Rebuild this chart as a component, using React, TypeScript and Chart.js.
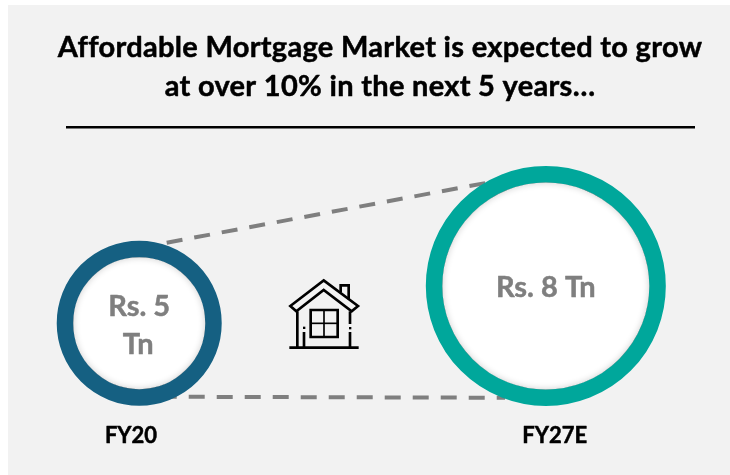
import React, { useEffect, useRef } from "react";
import { Chart, registerables } from "chart.js";

Chart.register(...registerables);

const periods = ["FY20", "FY27E"];
const marketSizeTn = [5, 8];
const ringColors = ["#156082", "#00A79B"];
const valueLabels = [["Rs. 5", "Tn"], ["Rs. 8 Tn"]];
const titleLines = [
  "Affordable Mortgage Market is expected to grow",
  "at over 10% in the next 5 years…",
];
const upperConnector = [
  { x: 0.0676, y: 11.49 },
  { x: 0.853, y: 16.31 },
];
const lowerConnector = [
  { x: 0.0529, y: -0.93 },
  { x: 0.8996, y: -1.01 },
];

const FONT = "Lato, 'Open Sans', sans-serif";
const bubbleRadius = (v: number) => 12.5 * v + 11.75;

function text(ctx: any, s: string, x: number, y: number, font: string, color: string, spacing = "0px") {
  ctx.save();
  ctx.font = font;
  ctx.fillStyle = color;
  ctx.strokeStyle = color;
  ctx.lineWidth = 0.5;
  ctx.lineJoin = "round";
  ctx.textAlign = "center";
  ctx.textBaseline = "alphabetic";
  ctx.letterSpacing = spacing;
  ctx.fillText(s, x, y);
  ctx.strokeText(s, x, y);
  ctx.restore();
}

function drawHouse(ctx: any) {
  ctx.save();
  ctx.translate(270, 260);
  ctx.scale(1 / 3, 1 / 3);
  ctx.strokeStyle = "#000";
  ctx.lineJoin = "miter";
  ctx.lineWidth = 8;
  const poly = (pts: number[][], close = false) => {
    ctx.beginPath();
    pts.forEach((p, i) => (i ? ctx.lineTo(p[0], p[1]) : ctx.moveTo(p[0], p[1])));
    if (close) ctx.closePath();
    ctx.stroke();
  };
  poly([[161, 61], [264, 138], [245, 154], [161, 90], [79, 154], [61, 138]], true);
  poly([[212, 97], [212, 76], [236, 76], [236, 118]]);
  poly([[82, 154], [82, 263]]);
  poly([[240, 154], [240, 192]]);
  poly([[240, 216], [240, 263]]);
  poly([[102, 216], [102, 263]]);
  poly([[58, 263], [266, 263]]);
  poly([[122, 150], [203, 150], [203, 231], [122, 231]], true);
  ctx.lineWidth = 5;
  poly([[162, 150], [162, 231]]);
  poly([[122, 190], [203, 190]]);
  ctx.fillStyle = "#000";
  ctx.fillRect(237, 201, 7, 7);
  ctx.fillRect(99, 200, 7, 7);
  ctx.restore();
}

const panelPlugin = {
  id: "panel",
  beforeDraw(chart: any) {
    const { ctx } = chart;
    ctx.save();
    ctx.fillStyle = "#fff";
    ctx.fillRect(0, 0, 730, 475);
    ctx.fillStyle = "#F2F2F2";
    ctx.fillRect(8, 5, 722, 470);
    ctx.fillStyle = "#000";
    ctx.fillRect(66, 126, 629, 2.5);
    ctx.restore();
  },
};

const overlayPlugin = {
  id: "overlay",
  afterDatasetsDraw(chart: any) {
    const { ctx } = chart;
    const elements = chart.getDatasetMeta(2).data;
    elements.forEach((el: any, i: number) => {
      const inner = el.options.radius - el.options.borderWidth / 2;
      ctx.save();
      ctx.beginPath();
      ctx.arc(el.x, el.y, inner, 0, Math.PI * 2);
      ctx.clip();
      ctx.beginPath();
      ctx.arc(el.x, el.y, inner + 5, 0, Math.PI * 2);
      ctx.lineWidth = 10;
      ctx.strokeStyle = "#777";
      ctx.shadowColor = "rgba(0,0,0,0.2)";
      ctx.shadowBlur = 7;
      ctx.stroke();
      ctx.restore();

      const lines = valueLabels[i];
      if (lines.length === 2) {
        text(ctx, lines[0], el.x, el.y - 7.5, `bold 29px ${FONT}`, "#7F7F7F");
        text(ctx, lines[1], el.x - 1, el.y + 31, `bold 29px ${FONT}`, "#7F7F7F");
      } else {
        text(ctx, lines[0], el.x, el.y + 10.7, `bold 29px ${FONT}`, "#7F7F7F");
      }
    });
    text(ctx, periods[0], 131, 442.5, `bold 22px ${FONT}`, "#000");
    text(ctx, periods[1], 554.7, 442.5, `bold 22px ${FONT}`, "#000");
    text(ctx, titleLines[0], 380, 56.7, `bold 29px ${FONT}`, "#000", "0.3px");
    text(ctx, titleLines[1], 380, 96, `bold 29px ${FONT}`, "#000", "0.3px");
    drawHouse(ctx);
  },
};

export default function App() {
  const ref = useRef<HTMLCanvasElement>(null);
  useEffect(() => {
    const connector = (data: any[], label: string) => ({
      type: "line" as const,
      label,
      data,
      borderColor: "#7F7F7F",
      borderWidth: 4,
      borderDash: [16, 12],
      pointRadius: 0,
      fill: false,
      clip: false,
      order: 2,
    });
    const chart = new Chart(ref.current!, {
      type: "bubble",
      data: {
        datasets: [
          connector(upperConnector, "Upper connector"),
          connector(lowerConnector, "Lower connector"),
          {
            label: "Market size (Rs. Tn)",
            data: marketSizeTn.map((v, i) => ({ x: i, y: v, r: bubbleRadius(v) })),
            backgroundColor: "#FFFFFF",
            borderColor: ringColors,
            borderWidth: 16.5,
            hoverBorderWidth: 16.5,
            clip: false,
            order: 1,
          },
        ] as any,
      },
      options: {
        responsive: false,
        animation: false,
        events: [],
        layout: { padding: 0, autoPadding: false },
        scales: {
          x: { type: "linear", display: false, min: -0.3424, max: 1.453 },
          y: { type: "linear", display: false, min: -7.24, max: 31.06 },
        },
        plugins: { legend: { display: false }, tooltip: { enabled: false }, title: { display: false } },
      },
      plugins: [panelPlugin, overlayPlugin],
    } as any);
    return () => chart.destroy();
  }, []);
  return (
    <canvas
      ref={ref}
      width={730}
      height={475}
      style={{ position: "fixed", left: 0, top: 0, width: 730, height: 475, display: "block" }}
    />
  );
}
